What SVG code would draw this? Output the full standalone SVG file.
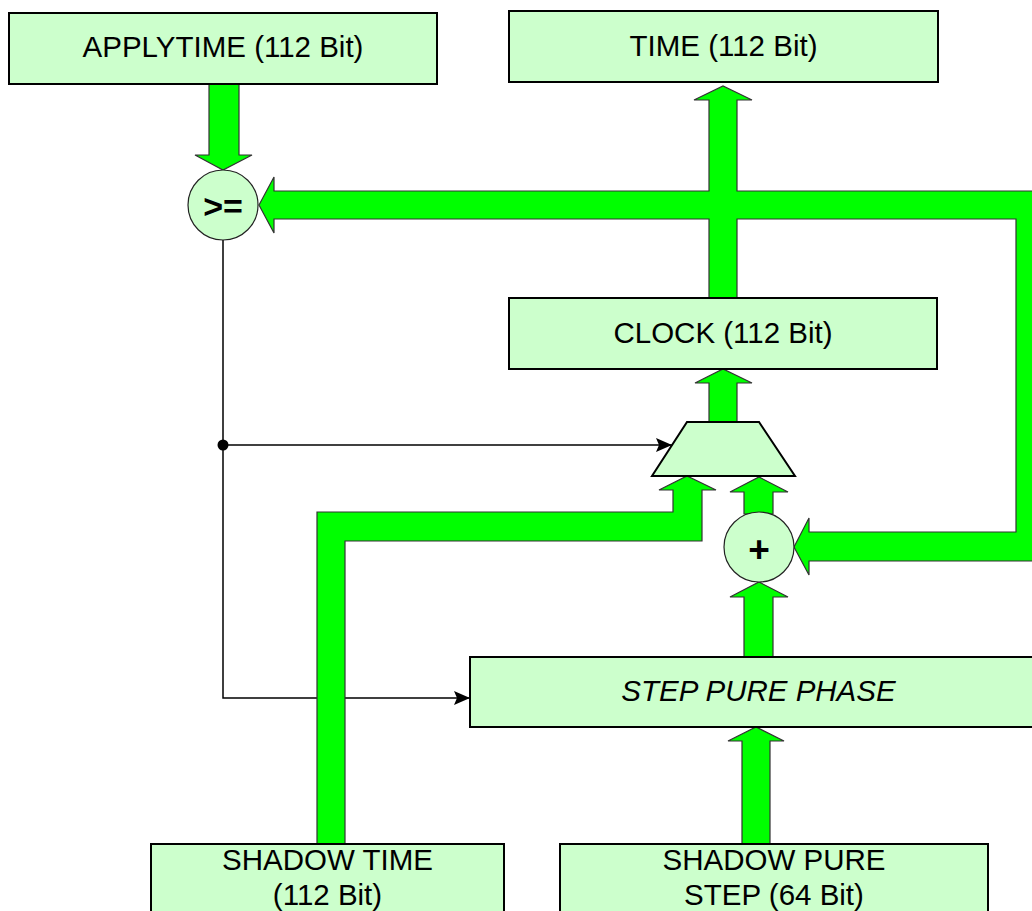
<svg xmlns="http://www.w3.org/2000/svg" width="1032" height="911" viewBox="0 0 1032 911">
<style>
.box{fill:#CCFFCC;stroke:#000;stroke-width:2}
.bus{fill:#00FF00;stroke:#333;stroke-width:1.2;stroke-linejoin:miter}
.op{fill:#CCFFCC;stroke:#222;stroke-width:1.2}
.mux{fill:#CCFFCC;stroke:#000;stroke-width:2;stroke-linejoin:miter}
.wire{fill:none;stroke:#000;stroke-width:1.5}
.t{font-family:"Liberation Sans",Arial,sans-serif;font-size:29.5px;fill:#000;text-anchor:middle}
.i{font-style:italic}
.b{font-weight:bold}
</style>
<defs>
<marker id="ah" viewBox="0 0 16 14" refX="16" refY="7" markerWidth="16" markerHeight="14" markerUnits="userSpaceOnUse" orient="auto">
<path d="M0,0 L16,7 L0,14 L3,7 Z" fill="#000"/>
</marker>
</defs>
<rect width="1032" height="911" fill="#fff"/>
<g id="connectors">
<path class="wire" d="M223,240 V698 H470" marker-end="url(#ah)"/>
<path class="wire" d="M223,445 H672" marker-end="url(#ah)"/>
<circle cx="223" cy="445" r="5.5" fill="#000"/>
<polygon class="bus" points="209,84 239,84 239,155 252,155 223,170 195,155 209,155"/>
<polygon class="bus" points="259,205 274,177 274,191 709,191 709,100 694,100 723,86 752,100 737,100 737,191 1045,191 1045,561 809,561 809,575 794,547 809,518 809,532 1016,532 1016,219 737,219 737,298 709,298 709,219 274,219 274,233"/>
<polygon class="bus" points="709,422 709,383 695,383 723,369 752,383 737,383 737,422"/>
<polygon class="bus" points="317,844 317,512 673,512 673,490 659,490 687,476 716,490 702,490 702,541 345,541 345,844"/>
<polygon class="bus" points="744,514 744,492 730,492 759,477 788,492 773,492 773,514"/>
<polygon class="bus" points="744,657 744,597 730,597 759,582 788,597 773,597 773,657"/>
<polygon class="bus" points="742,844 742,741 728,741 756,727 784,741 770,741 770,844"/>
</g>
<g id="applytime">
<rect class="box" x="9" y="13" width="428" height="71"/>
<text class="t" x="223" y="57">APPLYTIME (112 Bit)</text>
</g>
<g id="time">
<rect class="box" x="509" y="11" width="429" height="71"/>
<text class="t" x="723.5" y="56">TIME (112 Bit)</text>
</g>
<g id="compare">
<circle class="op" cx="223" cy="205" r="35"/>
<text class="t b" x="223" y="218" style="font-size:34px">&gt;=</text>
</g>
<g id="clock">
<rect class="box" x="509" y="298" width="428" height="71"/>
<text class="t" x="723" y="343">CLOCK (112 Bit)</text>
</g>
<g id="mux">
<polygon class="mux" points="687,422 759,422 795,476 652,476"/>
</g>
<g id="adder">
<circle class="op" cx="759" cy="547" r="35"/>
<text class="t b" x="759" y="562" style="font-size:37px">+</text>
</g>
<g id="step-pure-phase">
<rect class="box" x="470" y="657" width="580" height="70"/>
<text class="t i" x="758.5" y="701">STEP PURE PHASE</text>
</g>
<g id="shadow-time">
<rect class="box" x="151" y="844" width="353" height="80"/>
<text class="t" x="327.5" y="870">SHADOW TIME</text>
<text class="t" x="327.5" y="905">(112 Bit)</text>
</g>
<g id="shadow-pure-step">
<rect class="box" x="560" y="844" width="428" height="80"/>
<text class="t" x="774" y="870">SHADOW PURE</text>
<text class="t" x="774" y="905">STEP (64 Bit)</text>
</g>
</svg>
